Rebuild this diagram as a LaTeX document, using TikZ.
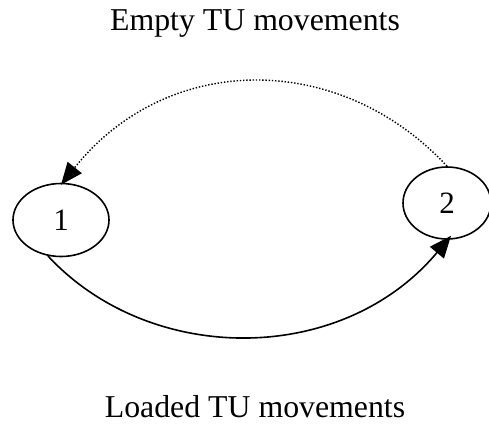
\documentclass[tikz,border=0pt]{standalone}
\usepackage{fontspec}
\setmainfont{Liberation Serif}
\usetikzlibrary{shapes.geometric,arrows.meta}
\begin{document}
\begin{tikzpicture}[x=1pt,y=-1pt,
  state/.style={ellipse,draw,line width=1.6pt,inner sep=0pt,font=\fontsize{31}{31}\selectfont},
  caption/.style={anchor=base,font=\fontsize{31.8}{32}\selectfont},
  flow/.style={line width=1.6pt,-{Triangle[length=22pt,width=18pt]}},
  emptyflow/.style={line width=1.4pt,dash pattern=on 1.4pt off 1.8pt,-{Triangle[length=22pt,width=18pt]}}]
  \useasboundingbox (0,0) rectangle (489,423);
  \fill[white] (0,0) rectangle (489,423);

  \node[caption] (top) at (255,30) {Empty TU movements};
  \node[caption] (bottom) at (255,417) {Loaded TU movements};

  \node[state,minimum width=96pt,minimum height=73pt] (n1) at (61,220) {1};
  \node[state,minimum width=88pt,minimum height=72pt] (n2) at (447,203) {2};

  % empty containers return from 2 to 1
  \draw[emptyflow] (n2.north) .. controls (340,51) and (168,51) .. ([yshift=-2pt]n1.north);
  % loaded containers travel from 1 to 2
  \draw[flow] (n1.250) .. controls (150,366) and (342,366) .. ([xshift=4pt,yshift=4pt]n2.south);
\end{tikzpicture}
\end{document}
